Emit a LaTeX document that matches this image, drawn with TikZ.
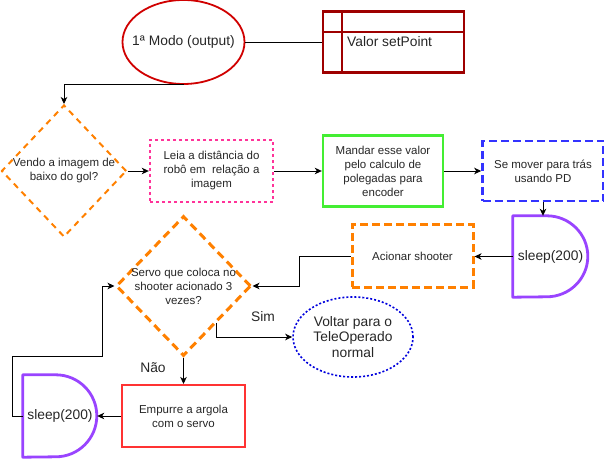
\documentclass[tikz,border=0pt]{standalone}
\usepackage{fontspec}
\setmainfont{Liberation Sans}
\usetikzlibrary{shapes.geometric,arrows.meta}

\definecolor{inkgray}{HTML}{262626}
\definecolor{modeRed}{HTML}{D00000}
\definecolor{tableRed}{HTML}{9E0000}
\definecolor{flowOrange}{HTML}{FF8000}
\definecolor{pinkRed}{HTML}{FF3399}
\definecolor{limeGreen}{HTML}{44EE33}
\definecolor{moveBlue}{HTML}{3333FF}
\definecolor{flowPurple}{HTML}{9944FF}
\definecolor{teleBlue}{HTML}{0000DD}
\definecolor{pushRed}{HTML}{FF3333}

\begin{document}
\begin{tikzpicture}[x=1pt, y=1pt,
    smalltext/.style={font=\fontsize{11.5}{14}\selectfont, text=inkgray, align=center},
    bigtext/.style={font=\fontsize{13.8}{15.5}\selectfont, text=inkgray, align=center},
    terminal/.style={ellipse, inner sep=0pt},
    process/.style={rectangle, inner sep=0pt, smalltext},
    decision/.style={diamond, inner sep=0pt, draw=flowOrange, dash pattern=on 6pt off 5pt},
    delay/.style={rectangle, inner sep=0pt, bigtext},
    delayline/.style={draw=flowPurple, line width=2.8pt, line join=round},
    flow/.style={draw=black, line width=0.9pt, -{Stealth[length=7pt, width=6.5pt, inset=2pt]}}]

  \useasboundingbox (0,0) rectangle (604,458);

  % primeira linha
  \node[terminal, draw=modeRed, line width=1.8pt, minimum width=122pt, minimum height=84pt] (mode) at (183.5,416) {};
  \node[bigtext] (modeTxt) at (mode) {1ª Modo (output)};
  \node[rectangle, draw=tableRed, line width=2.4pt, minimum width=141pt, minimum height=61pt] (setpoint) at (393.5,416) {};
  \draw[tableRed, line width=2.4pt] ([xshift=20pt]setpoint.north west) -- ([xshift=20pt]setpoint.south west);
  \draw[tableRed, line width=2.4pt] ([yshift=-21.5pt]setpoint.north west) -- ([yshift=-21.5pt]setpoint.north east);
  \node[bigtext, anchor=west, inner sep=0pt] (setpointTxt) at (347,416) {Valor setPoint};
  \draw[line width=0.9pt] (mode) -- (setpoint);

  % segunda linha
  \node[decision, line width=2pt, minimum width=125pt, minimum height=132pt] (see) at (64,287) {};
  \node[smalltext] (seeTxt) at (see) {Vendo a imagem de\\baixo do gol?};
  \node[process, draw=pinkRed, line width=2.4pt, dash pattern=on 3pt off 3pt, minimum width=123pt, minimum height=62pt] (read) at (211.5,287) {Leia a distância do\\robô em~ relação a\\imagem};
  \node[process, draw=limeGreen, line width=2.4pt, minimum width=120pt, minimum height=71pt] (send) at (383,287) {Mandar esse valor\\pelo calculo de\\polegadas para\\encoder};
  \node[process, draw=moveBlue, line width=2.6pt, dash pattern=on 8pt off 4pt, minimum width=121pt, minimum height=60pt] (back) at (543,287) {Se mover para trás\\usando PD};
  \draw[flow] (mode.south) -| (see.north);
  \draw[flow] (see) -- (read);
  \draw[flow] (read) -- (send);
  \draw[flow] (send) -- (back);

  % terceira linha
  \node[delay, minimum width=75pt, minimum height=81pt] (sleepA) at (550.5,201.5) {sleep(200)};
  \draw[delayline] (sleepA.south west) -- (sleepA.north west) -- ++(34,0) arc[start angle=90, end angle=-90, x radius=41pt, y radius=40.5pt] -- cycle;
  \node[process, draw=flowOrange, line width=3pt, dash pattern=on 8pt off 4pt, minimum width=121pt, minimum height=62pt] (shooter) at (412.5,202) {Acionar shooter};
  \draw[flow] (back.south) -- (back.south |- sleepA.north);
  \draw[flow] (sleepA.west) -- (sleepA.west -| shooter.east);

  \node[decision, line width=3pt, dash pattern=on 8pt off 5pt, minimum width=135pt, minimum height=140pt] (servo) at (183.5,172) {};
  \node[smalltext] (servoTxt) at (servo) {Servo que coloca no\\shooter acionado 3\\vezes?};
  \draw[flow] (shooter.west) -- ++(-51,0) |- (servo.east);

  \node[terminal, draw=teleBlue, line width=1.6pt, dash pattern=on 2pt off 2pt, minimum width=120pt, minimum height=80pt] (tele) at (353,121) {};
  \node[bigtext] (teleTxt) at (tele) {Voltar para o\\TeleOperado\\normal};
  \draw[flow] (servo.-48) |- (tele.west);
  \node[bigtext] (sim) at (263,141) {Sim};

  % quarta linha
  \node[process, draw=pushRed, line width=2pt, minimum width=123pt, minimum height=62pt] (push) at (183.5,42) {Empurre a argola\\com o servo};
  \draw[flow] (servo.south) -- (push.north);
  \node[bigtext] (nao) at (153,90) {Não};
  \node[delay, minimum width=74pt, minimum height=82pt] (sleepB) at (60,42) {sleep(200)};
  \draw[delayline] (sleepB.south west) -- (sleepB.north west) -- ++(33,0) arc[start angle=90, end angle=-90, x radius=41pt, y radius=41pt] -- cycle;
  \draw[flow] (push) -- (sleepB);
  \draw[flow] (sleepB.west) -- ++(-10,0) -- ++(0,60) -- ++(90,0) |- (servo.west);
\end{tikzpicture}
\end{document}
